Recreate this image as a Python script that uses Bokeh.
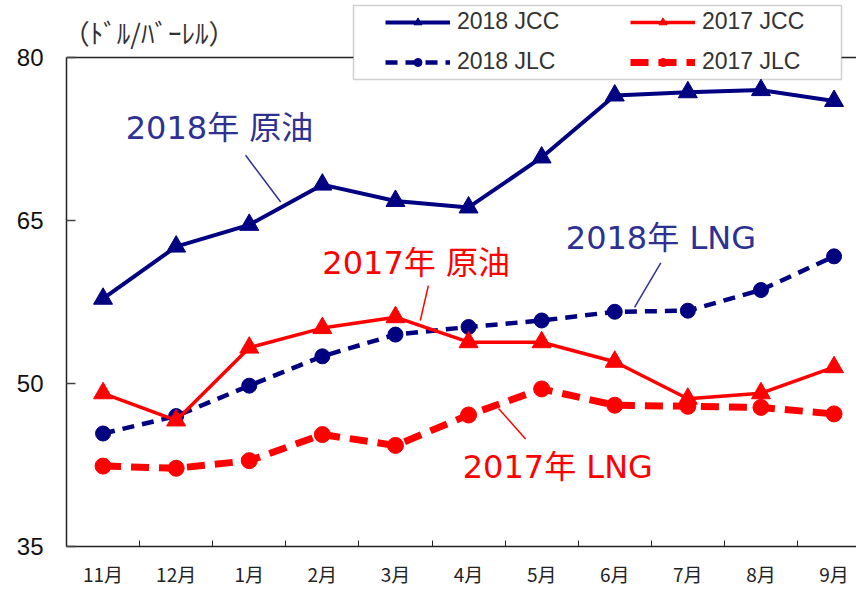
from bokeh.plotting import figure
from bokeh.models import (FixedTicker, Legend, LegendItem, BoxAnnotation, Span, Label)
from bokeh.core.properties import value
from bokeh.embed import file_html
from bokeh.resources import INLINE

# ---- data ----
months = ["11月", "12月", "1月", "2月", "3月", "4月", "5月", "6月", "7月", "8月", "9月"]
jcc_2018 = [57.8, 62.6, 64.6, 68.3, 66.8, 66.2, 70.8, 76.5, 76.8, 77.0, 76.0]
jlc_2018 = [45.4, 47.0, 49.8, 52.5, 54.5, 55.2, 55.8, 56.6, 56.7, 58.6, 61.7]
jcc_2017 = [49.1, 46.6, 53.3, 55.1, 56.1, 53.8, 53.8, 52.0, 48.6, 49.1, 51.5]
jlc_2017 = [42.4, 42.2, 42.9, 45.3, 44.3, 47.1, 49.5, 48.0, 47.9, 47.8, 47.2]
y_ticks = [35, 50, 65, 80]
unit_label = "（ﾄﾞﾙ/ﾊﾞｰﾚﾙ）"

# callout annotations (text, x, y) in data coordinates
ann_text = ["2018年 原油", "2017年 原油", "2018年 LNG", "2017年 LNG"]
ann_x = [0.31, 3.00, 6.33, 4.92]
ann_y = [73.5, 61.1, 63.4, 42.3]
ann_color = ["#2E3192", "#FF0000", "#2E3192", "#FF0000"]
lead_x0 = [1.95, 4.45, 7.63, 5.41]
lead_y0 = [71.0, 59.0, 61.1, 47.7]
lead_x1 = [2.43, 4.34, 7.27, 5.78]
lead_y1 = [66.7, 55.8, 57.0, 44.9]

NAVY = "#000080"
RED = "#FF0000"
AXIS = "#222222"
FONT_MIX = value("DejaVu Sans, Noto Sans CJK JP")

xs = list(range(len(months)))

p = figure(width=856, height=589, output_backend="svg", toolbar_location=None,
           x_range=(-0.5, 10.307), y_range=(35, 85.245),
           min_border_left=66, min_border_right=0, min_border_top=0, min_border_bottom=43)
p.background_fill_color = "white"
p.border_fill_color = "white"
p.outline_line_color = None
p.xgrid.visible = False
p.ygrid.visible = False

# axes
p.xaxis.ticker = FixedTicker(ticks=xs, minor_ticks=[i + 0.5 for i in xs[:-1]])
p.xaxis.major_label_overrides = {i: m for i, m in zip(xs, months)}
p.xaxis.major_tick_in = 0
p.xaxis.major_tick_out = 0
p.xaxis.minor_tick_in = 6
p.xaxis.minor_tick_out = 0
p.xaxis.minor_tick_line_color = AXIS
p.xaxis.major_label_standoff = 13
p.xaxis.major_label_text_font = "Noto Sans CJK JP"
p.xaxis.major_label_text_font_size = "19px"
p.xaxis.major_label_text_color = "#222222"
p.xaxis.axis_line_color = AXIS
p.xaxis.axis_line_width = 1.5

p.yaxis.ticker = FixedTicker(ticks=y_ticks)
p.yaxis.bounds = (35, 80)
p.yaxis.major_tick_in = 9
p.yaxis.major_tick_out = 0
p.yaxis.minor_tick_line_color = None
p.yaxis.major_label_standoff = 23
p.yaxis.major_label_text_font = "Liberation Sans"
p.yaxis.major_label_text_font_size = "24px"
p.yaxis.major_label_text_color = "#111111"
p.yaxis.axis_line_color = AXIS
p.yaxis.axis_line_width = 1.5
p.yaxis.major_tick_line_color = "#444444"
p.yaxis.major_tick_line_width = 1.5

# top border line of the plot area at 80
top_line = Span(location=80, dimension="width", line_color=AXIS, line_width=1.5, level="underlay")
p.add_layout(top_line)

# legend box
box = BoxAnnotation(left=287, right=775, top=541, bottom=467,
                    left_units="screen", right_units="screen", top_units="screen", bottom_units="screen",
                    fill_color="white", fill_alpha=1.0, line_color="#666666", line_width=1.5,
                    level="underlay")
p.add_layout(box)

# unit label
p.add_layout(Label(x=-0.55, y=82.3, text=unit_label, text_font="Noto Sans CJK JP",
                   text_font_size="27px", text_color="#333333", text_baseline="middle",
                   text_align="left"))

# series
l1 = p.line(xs, jcc_2018, line_color=NAVY, line_width=4)
m1 = p.scatter(xs, jcc_2018, marker="triangle", size=19, color=NAVY)
l2 = p.line(xs, jlc_2018, line_color=NAVY, line_width=4.5, line_dash="12 8")
m2 = p.scatter(xs, jlc_2018, marker="circle", size=15, color=NAVY)
l3 = p.line(xs, jcc_2017, line_color=RED, line_width=3.5)
m3 = p.scatter(xs, jcc_2017, marker="triangle", size=19, color=RED)
l4 = p.line(xs, jlc_2017, line_color=RED, line_width=7, line_dash="18 10")
m4 = p.scatter(xs, jlc_2017, marker="circle", size=16, color=RED)

# callouts
p.segment(lead_x0, lead_y0, lead_x1, lead_y1, line_color=ann_color, line_width=1.5)
p.text(ann_x, ann_y, text=ann_text, text_color=ann_color, text_font=FONT_MIX,
       text_font_size="32px", text_align="left", text_baseline="middle")

legend = Legend(items=[
    LegendItem(label="2018 JCC", renderers=[l1, m1]),
    LegendItem(label="2018 JLC", renderers=[l2, m2]),
    LegendItem(label="2017 JCC", renderers=[l3, m3]),
    LegendItem(label="2017 JLC", renderers=[l4, m4]),
], ncols=2, location=(319, 471), margin=0, padding=0, spacing=13,
    glyph_width=65, glyph_height=20, label_standoff=7, label_width=160,
    label_text_font="Liberation Sans", label_text_font_size="23px", label_text_color="#333333",
    border_line_alpha=0, background_fill_alpha=0)
p.add_layout(legend, "center")

open("out.html", "w").write(file_html(p, INLINE))
